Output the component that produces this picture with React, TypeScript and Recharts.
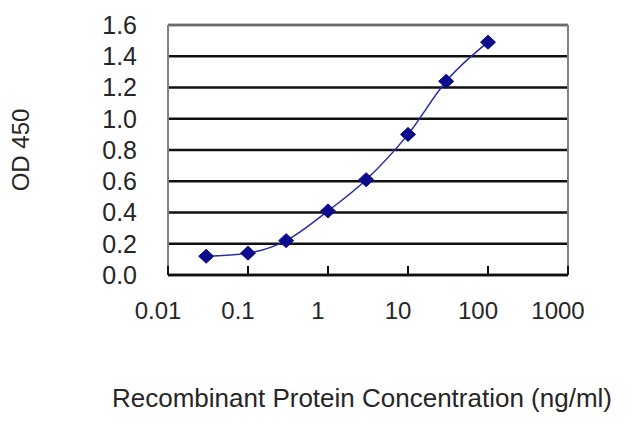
import { LineChart, Line, XAxis, YAxis, CartesianGrid, ReferenceLine } from "recharts";

const concentrations = [0.03, 0.1, 0.3, 1, 3, 10, 30, 100];
const od450 = [0.12, 0.14, 0.22, 0.41, 0.61, 0.9, 1.24, 1.49];
const xTicks = [0.01, 0.1, 1, 10, 100, 1000];
const yTicks = [0, 0.2, 0.4, 0.6, 0.8, 1.0, 1.2, 1.4, 1.6];

const data = concentrations.map((c, i) => ({ conc: c, od: od450[i] }));

const FONT = "'Liberation Sans', Arial, sans-serif";
const TEXT = "#262626";
const X_TICK_MARGIN = 27;

function XTick(props: any) {
  const { x, y, payload } = props;
  const axisY = y - X_TICK_MARGIN;
  return (
    <g>
      <line x1={x} x2={x} y1={axisY} y2={axisY - 9} stroke="#111" strokeWidth={2} />
      <text x={x - 10} y={y} dy="0.71em" textAnchor="middle" fill={TEXT} fontSize={24} fontFamily={FONT}>
        {payload.value}
      </text>
    </g>
  );
}

function Diamond(props: any) {
  const { cx, cy, index } = props;
  return (
    <path
      key={`d-${index}`}
      d={`M${cx},${cy - 7} L${cx + 7.5},${cy} L${cx},${cy + 7} L${cx - 7.5},${cy} Z`}
      fill="#0b0b8c"
      stroke="#0b0b8c"
    />
  );
}

export default function App() {
  return (
    <div style={{ position: "fixed", left: 0, top: 0, width: 640, height: 427, background: "#fff", fontFamily: FONT }}>
      <LineChart width={640} height={427} data={data} margin={{ top: 25, right: 72, bottom: 0, left: 0 }}>
        <CartesianGrid horizontal vertical={false} stroke="#111" strokeWidth={2.5} />
        <XAxis
          dataKey="conc"
          type="number"
          scale="log"
          domain={[0.01, 1000]}
          ticks={xTicks}
          allowDataOverflow
          height={152}
          tickSize={0}
          tickMargin={X_TICK_MARGIN}
          tickLine={false}
          axisLine={{ stroke: "#111", strokeWidth: 2.5 }}
          tick={<XTick />}
          interval={0}
          label={{
            value: "Recombinant Protein Concentration (ng/ml)",
            position: "insideBottom",
            offset: 20,
            dx: -6,
            fill: TEXT,
            fontSize: 26,
            fontFamily: FONT,
          }}
        />
        <YAxis
          type="number"
          domain={[0, 1.6]}
          ticks={yTicks}
          interval={0}
          width={168}
          tickSize={0}
          tickMargin={31}
          tickLine={false}
          axisLine={{ stroke: "#808080", strokeWidth: 2 }}
          tickFormatter={(v: number) => v.toFixed(1)}
          tick={{ fill: TEXT, fontSize: 25, fontFamily: FONT }}
          label={{
            value: "OD 450",
            angle: -90,
            position: "insideLeft",
            offset: 20,
            style: { textAnchor: "middle" },
            fill: TEXT,
            fontSize: 24,
            fontFamily: FONT,
          }}
        />
        <ReferenceLine y={1.6} stroke="#6a6a6a" strokeWidth={2} />
        <ReferenceLine x={1000} stroke="#808080" strokeWidth={2} />
        <Line
          type="monotone"
          dataKey="od"
          stroke="#2a2aa8"
          strokeWidth={1.5}
          dot={<Diamond />}
          activeDot={false}
          isAnimationActive={false}
        />
      </LineChart>
    </div>
  );
}
